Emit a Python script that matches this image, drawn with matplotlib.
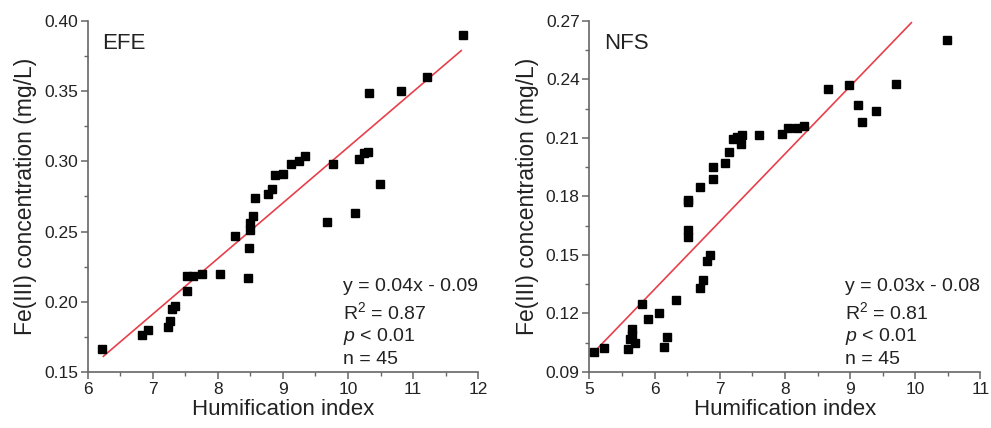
import matplotlib
matplotlib.use("Agg")
import matplotlib.pyplot as plt
from matplotlib.ticker import MultipleLocator, FormatStrFormatter
import numpy as np

plt.rcParams['font.family'] = ['Liberation Sans', 'DejaVu Sans']
plt.rcParams['mathtext.fontset'] = 'custom'
plt.rcParams['mathtext.rm'] = 'Liberation Sans'
plt.rcParams['mathtext.it'] = 'Liberation Sans:italic'

# ---- EFE data ----
efe_x = [6.22, 6.83, 6.92, 7.24, 7.27, 7.30, 7.34, 7.52, 7.52, 7.62, 7.76, 8.03,
         8.26, 8.47, 8.48, 8.49, 8.50, 8.54, 8.57, 8.77, 8.83, 8.88, 9.00, 9.13,
         9.24, 9.34, 9.68, 9.77, 10.10, 10.17, 10.24, 10.30, 10.32, 10.49, 10.82,
         11.21, 11.76]
efe_y = [0.166, 0.176, 0.180, 0.182, 0.186, 0.195, 0.197, 0.208, 0.218, 0.218,
         0.220, 0.220, 0.247, 0.217, 0.238, 0.251, 0.256, 0.261, 0.274, 0.277,
         0.280, 0.290, 0.291, 0.298, 0.300, 0.304, 0.257, 0.298, 0.263, 0.302,
         0.306, 0.307, 0.349, 0.284, 0.350, 0.360, 0.390]
efe_fit_slope = 0.0396
efe_fit_intercept = -0.086
efe_fit_range = [6.24, 11.74]
efe_stats = ["y = 0.04x - 0.09", "R$^2$ = 0.87", "$\\it{p}$ < 0.01", "n = 45"]

# ---- NFS data ----
nfs_x = [5.07, 5.23, 5.59, 5.63, 5.65, 5.66, 5.70, 5.80, 5.90, 6.07, 6.15, 6.19,
         6.33, 6.51, 6.51, 6.52, 6.52, 6.69, 6.69, 6.74, 6.80, 6.85, 6.89, 6.90,
         7.08, 7.14, 7.21, 7.26, 7.33, 7.34, 7.61, 7.96, 8.04, 8.19, 8.30, 8.66,
         8.99, 9.12, 9.19, 9.39, 9.71, 10.48]
nfs_y = [0.100, 0.1025, 0.102, 0.107, 0.109, 0.112, 0.105, 0.125, 0.117, 0.120,
         0.103, 0.108, 0.127, 0.159, 0.163, 0.177, 0.178, 0.133, 0.185, 0.137,
         0.147, 0.150, 0.189, 0.195, 0.197, 0.203, 0.2096, 0.2104, 0.207, 0.2113,
         0.2113, 0.2118, 0.215, 0.215, 0.216, 0.235, 0.237, 0.227, 0.218, 0.224,
         0.2375, 0.260]
nfs_fit_slope = 0.0347
nfs_fit_intercept = -0.0758
nfs_fit_range = [5.09, 9.94]
nfs_stats = ["y = 0.03x - 0.08", "R$^2$ = 0.81", "$\\it{p}$ < 0.01", "n = 45"]

xlabel = "Humification index"
ylabel = "Fe(III) concentration (mg/L)"

fig = plt.figure(figsize=(9.91, 4.28), dpi=100)
ax1 = fig.add_axes([0.0885, 0.131, 0.394, 0.820])
ax2 = fig.add_axes([0.5947, 0.131, 0.3947, 0.820])

text_col = '#222222'
spine_col = '#666666'
line_col = '#e8404a'

def style(ax, xlim, ylim, xmaj, xmin, ymaj, ymin, title, xs, ys, slope, icpt, frange, stats):
    ax.plot(xs, ys, 's', color='black', markersize=5.8, zorder=3)
    fx = np.array(frange)
    ax.plot(fx, slope * fx + icpt, '-', color=line_col, lw=1.2, zorder=2)
    ax.set_xlim(*xlim)
    ax.set_ylim(*ylim)
    ax.xaxis.set_major_locator(MultipleLocator(xmaj))
    ax.xaxis.set_minor_locator(MultipleLocator(xmin))
    ax.yaxis.set_major_locator(MultipleLocator(ymaj))
    ax.yaxis.set_minor_locator(MultipleLocator(ymin))
    ax.yaxis.set_major_formatter(FormatStrFormatter('%.2f'))
    for s in ['top', 'right']:
        ax.spines[s].set_visible(False)
    for s in ['left', 'bottom']:
        ax.spines[s].set_color(spine_col)
        ax.spines[s].set_linewidth(1.2)
    ax.tick_params(which='major', direction='out', length=5, width=1.1,
                   color=spine_col, labelsize=12.5, labelcolor=text_col, pad=2)
    ax.tick_params(which='minor', direction='out', length=3, width=1.0, color=spine_col)
    ax.set_xlabel(xlabel, fontsize=16, color=text_col, labelpad=2)
    ax.set_ylabel(ylabel, fontsize=16.5, color=text_col, labelpad=5)
    ax.text(0.038, 0.937, title, transform=ax.transAxes, fontsize=16,
            color=text_col, va='center', ha='left')
    for s, yy in zip(stats, [0.243, 0.169, 0.101, 0.034]):
        ax.text(0.654, yy, s, transform=ax.transAxes, fontsize=14,
                color=text_col, va='center', ha='left')

style(ax1, (6, 12), (0.15, 0.40), 1, 0.5, 0.05, 0.025, "EFE",
      efe_x, efe_y, efe_fit_slope, efe_fit_intercept, efe_fit_range, efe_stats)
style(ax2, (5, 11), (0.09, 0.27), 1, 0.5, 0.03, 0.015, "NFS",
      nfs_x, nfs_y, nfs_fit_slope, nfs_fit_intercept, nfs_fit_range, nfs_stats)

fig.savefig("out.png", dpi=100)
